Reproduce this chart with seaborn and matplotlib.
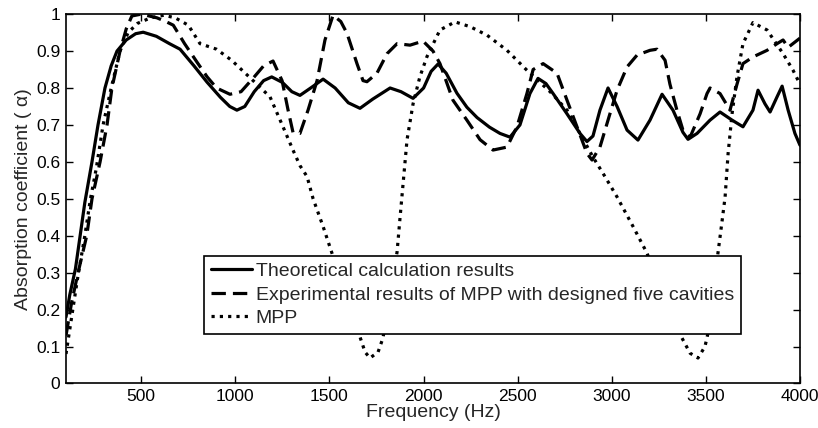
import numpy as np
import pandas as pd
import matplotlib
matplotlib.use("Agg")
import matplotlib.pyplot as plt
import seaborn as sns

# ---- data ----
theo_f = [100, 120, 150, 175, 200, 238, 270, 307, 340, 371, 420, 470, 510, 580, 650, 706,
          780, 849, 920, 970, 1008, 1050, 1100, 1150, 1193, 1250, 1300, 1343, 1400, 1466,
          1530, 1600, 1662, 1730, 1822, 1880, 1944, 2000, 2040, 2077, 2120, 2177, 2230, 2284,
          2350, 2406, 2459, 2512, 2565, 2608, 2650, 2688, 2762, 2831, 2868, 2900, 2937, 2980, 3028,
          3081, 3139, 3203, 3267, 3325, 3378, 3405, 3453, 3522, 3575, 3639, 3697, 3750,
          3777, 3814, 3841, 3878, 3905, 3937, 3973, 4000]
theo_a = [0.18, 0.24, 0.31, 0.40, 0.49, 0.60, 0.70, 0.80, 0.86, 0.90, 0.93, 0.947, 0.951,
          0.94, 0.92, 0.905, 0.86, 0.816, 0.775, 0.75, 0.74, 0.75, 0.79, 0.82, 0.83, 0.815,
          0.79, 0.78, 0.80, 0.824, 0.80, 0.76, 0.745, 0.77, 0.80, 0.79, 0.772, 0.80, 0.845,
          0.865, 0.84, 0.786, 0.748, 0.72, 0.694, 0.677, 0.667, 0.70, 0.785, 0.826, 0.812,
          0.785, 0.73, 0.677, 0.655, 0.67, 0.74, 0.80, 0.75, 0.686, 0.659, 0.713, 0.783,
          0.74, 0.68, 0.661, 0.677, 0.713, 0.735, 0.713, 0.695, 0.74, 0.794, 0.757, 0.735,
          0.776, 0.805, 0.74, 0.677, 0.645]

exp_f = [100, 130, 164, 210, 238, 281, 318, 344, 387, 420, 450, 500, 583, 630, 670, 730,
         796, 850, 900, 971, 1030, 1100, 1150, 1200, 1248, 1280, 1306, 1343, 1386, 1434,
         1476, 1519, 1560, 1593, 1646, 1678, 1699, 1752, 1806, 1859, 1928, 1997, 2050,
         2087, 2156, 2230, 2300, 2369, 2443, 2496, 2549, 2582, 2635, 2709, 2762, 2815,
         2868, 2895, 2937, 2990, 3028, 3081, 3134, 3203, 3240, 3283, 3309, 3346, 3378,
         3416, 3469, 3506, 3522, 3575, 3628, 3665, 3697, 3750, 3825, 3878, 3910, 3937, 4000]
exp_a = [0.13, 0.22, 0.30, 0.40, 0.50, 0.60, 0.70, 0.80, 0.90, 0.96, 0.995, 1.0, 0.99,
         0.98, 0.97, 0.92, 0.87, 0.83, 0.80, 0.783, 0.79, 0.83, 0.86, 0.873, 0.82, 0.74,
         0.68, 0.677, 0.74, 0.82, 0.93, 0.997, 0.98, 0.948, 0.866, 0.82, 0.817, 0.84,
         0.893, 0.92, 0.916, 0.927, 0.90, 0.866, 0.767, 0.713, 0.66, 0.632, 0.64, 0.695,
         0.785, 0.85, 0.866, 0.84, 0.767, 0.695, 0.623, 0.605, 0.64, 0.73, 0.794, 0.857,
         0.889, 0.902, 0.905, 0.875, 0.81, 0.74, 0.686, 0.667, 0.73, 0.785, 0.80, 0.785,
         0.74, 0.81, 0.866, 0.884, 0.902, 0.92, 0.93, 0.91, 0.935]

mpp_f = [100, 130, 160, 200, 230, 260, 297, 340, 387, 430, 480, 550, 620, 680, 750, 812,
         900, 980, 1094, 1184, 1253, 1306, 1343, 1381, 1413, 1466, 1513, 1600, 1662, 1689,
         1715, 1758, 1784, 1820, 1859, 1875, 1912, 1944, 1980, 2018, 2087, 2167, 2247,
         2337, 2443, 2549, 2672, 2762, 2831, 2900, 2964, 3028, 3113, 3187, 3280, 3373,
         3416, 3458, 3495, 3511, 3540, 3564, 3586, 3602, 3618, 3639, 3665, 3697, 3750,
         3825, 3910, 3963, 4000]
mpp_a = [0.08, 0.18, 0.28, 0.40, 0.50, 0.58, 0.70, 0.80, 0.90, 0.95, 0.975, 0.99, 0.997,
         0.99, 0.97, 0.92, 0.905, 0.875, 0.82, 0.776, 0.695, 0.632, 0.59, 0.56, 0.50,
         0.425, 0.353, 0.22, 0.126, 0.085, 0.069, 0.085, 0.123, 0.23, 0.356, 0.45, 0.66,
         0.757, 0.83, 0.885, 0.957, 0.979, 0.966, 0.943, 0.902, 0.848, 0.79, 0.74, 0.677,
         0.613, 0.56, 0.505, 0.425, 0.353, 0.23, 0.123, 0.082, 0.069, 0.10, 0.136, 0.24,
         0.353, 0.44, 0.505, 0.623, 0.73, 0.83, 0.92, 0.977, 0.957, 0.893, 0.848, 0.81]

labels = ["Theoretical calculation results",
          "Experimental results of MPP with designed five cavities",
          "MPP"]
xticks = [500, 1000, 1500, 2000, 2500, 3000, 3500, 4000]
yticks = [0, 0.1, 0.2, 0.3, 0.4, 0.5, 0.6, 0.7, 0.8, 0.9, 1]

# ---- plot ----
sns.set_style("ticks")
plt.rcParams["font.family"] = ["Liberation Sans", "DejaVu Sans"]
plt.rcParams["xtick.direction"] = "in"
plt.rcParams["ytick.direction"] = "in"

fig = plt.figure(figsize=(8.18, 4.28), dpi=100)
ax = fig.add_axes([0.0807, 0.104, 0.8973, 0.863])

df_t = pd.DataFrame({"f": theo_f, "a": theo_a})
df_e = pd.DataFrame({"f": exp_f, "a": exp_a})
df_m = pd.DataFrame({"f": mpp_f, "a": mpp_a})

sns.lineplot(data=df_t, x="f", y="a", ax=ax, color="black", lw=2.3, label=labels[0],
             sort=False)
sns.lineplot(data=df_e, x="f", y="a", ax=ax, color="black", lw=2.3, label=labels[1],
             sort=False, linestyle=(0, (4.5, 2.2)))
sns.lineplot(data=df_m, x="f", y="a", ax=ax, color="black", lw=2.3, label=labels[2],
             sort=False, linestyle=(0, (1.0, 1.6)))

ax.set_xlim(100, 4000)
ax.set_ylim(0, 1)
ax.set_xticks(xticks)
ax.set_yticks(yticks)
ax.set_yticklabels([f"{v:g}" for v in yticks])
ax.tick_params(which="major", direction="in", top=True, right=True, length=5, width=1.0,
               color="black", labelcolor="black", labelsize=12.5, pad=4)
for s in ax.spines.values():
    s.set_linewidth(1.2)
    s.set_color("black")
ax.set_xlabel("Frequency (Hz)", fontsize=14, labelpad=0)
ax.set_ylabel("Absorption coefficient ( α)", fontsize=14, labelpad=3)

leg = ax.legend(loc="lower left", bbox_to_anchor=(0.188, 0.134), fontsize=14,
                frameon=True, fancybox=False, framealpha=1, edgecolor="black",
                handlelength=2.1, borderpad=0.35, labelspacing=0.3, handletextpad=0.2,
                borderaxespad=0)
leg.get_frame().set_linewidth(1.2)

fig.savefig("out.png", dpi=100)
